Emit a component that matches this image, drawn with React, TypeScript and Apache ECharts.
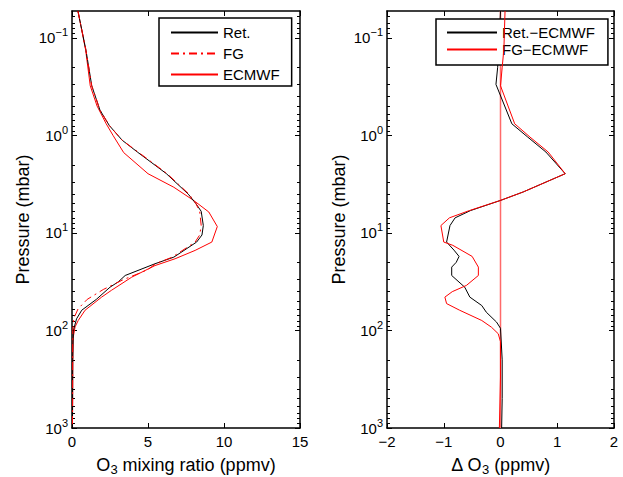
import React, { useEffect, useRef } from 'react';
import * as echarts from 'echarts';

// ---------------- data (pressure in mbar, ozone in ppmv) ----------------
const retP = [0.053, 0.134, 0.31, 0.55, 0.79, 1.12, 1.48, 2.46, 4.0, 5.0, 6.0, 8.4, 10.5, 12.4, 17.7, 20.7, 27.3, 31.7, 36, 48, 62, 76, 100, 200, 500, 1000];
const retO3 = [0.39, 0.92, 1.3, 1.84, 2.45, 3.3, 4.3, 6.2, 7.65, 8.15, 8.5, 8.64, 8.55, 8.2, 6.7, 5.46, 3.5, 3.05, 2.5, 1.6, 0.64, 0.3, 0.09, 0.05, 0.04, 0.03];

const fgP = [0.053, 0.134, 0.31, 0.55, 0.79, 1.12, 1.48, 2.46, 4.0, 5.0, 6.0, 8.4, 10.5, 12.4, 17.7, 20.7, 23.7, 26, 30, 38, 48, 60, 75, 100, 200, 500, 1000];
const fgO3 = [0.39, 0.92, 1.3, 1.84, 2.45, 3.3, 4.35, 6.25, 7.7, 8.15, 8.4, 8.5, 8.4, 8.1, 6.6, 5.5, 5.0, 4.4, 3.4, 2.06, 1.0, 0.4, 0.12, 0.05, 0.04, 0.04, 0.03];

const ecP = [0.053, 0.134, 0.31, 0.5, 0.76, 1.0, 1.5, 2.47, 3.4, 4.64, 6.1, 8.6, 12.4, 15.1, 18.4, 21.6, 28.4, 38.7, 45.5, 62, 79, 92, 120, 200, 500, 1000];
const ecO3 = [0.39, 0.9, 1.2, 1.65, 2.25, 2.7, 3.4, 5.0, 6.7, 8.0, 9.0, 9.56, 9.2, 8.1, 6.78, 5.46, 3.93, 2.6, 1.95, 0.86, 0.41, 0.2, 0.07, 0.05, 0.04, 0.03];

const dRetP = [0.053, 0.13, 0.2, 0.3, 0.76, 1.04, 1.48, 2.47, 3.8, 4.64, 5.9, 7.0, 8.4, 12.4, 15, 17.4, 20, 22.4, 27.3, 36, 45.5, 55.5, 65, 82, 95, 200, 500, 1000];
const dRet = [0.0, -0.03, -0.05, -0.08, 0.2, 0.48, 0.8, 1.14, 0.4, 0.0, -0.53, -0.8, -0.89, -0.95, -0.82, -0.73, -0.78, -0.86, -0.86, -0.63, -0.54, -0.33, -0.25, -0.07, 0.0, 0.03, 0.03, 0.02];

const dFgP = [0.053, 0.13, 0.2, 0.31, 0.76, 1.04, 1.48, 2.47, 3.8, 4.64, 5.9, 7.0, 8.4, 12.4, 13.4, 17.4, 22.4, 27.3, 34.5, 40, 45.5, 53, 62, 79, 92.5, 108, 130, 300, 1000];
const dFg = [0.08, 0.06, 0.03, 0.0, 0.25, 0.52, 0.84, 1.14, 0.4, 0.0, -0.55, -0.9, -1.05, -1.0, -0.84, -0.5, -0.39, -0.39, -0.6, -0.85, -0.98, -0.95, -0.72, -0.33, -0.16, -0.04, 0.0, 0.0, -0.02];

const zeroLineP = [0.053, 1000];
const zeroLineX = [0, 0];

const leftXTicks = { min: 0, max: 15, interval: 5 };
const rightXTicks = { min: -2, max: 2, interval: 1 };
const P_MIN = 0.053;
const P_MAX = 1000;
const majorP = [0.1, 1, 10, 100, 1000];
const minorFactors = [2, 3, 4, 5, 6, 7, 8, 9];
const decades = [0.01, 0.1, 1, 10, 100];

const leftLegend = ['Ret.', 'FG', 'ECMWF'];
const rightLegend = ['Ret.\u2212ECMWF', 'FG\u2212ECMWF'];

// -----------------------------------------------------------------------
const FONT = "'Liberation Sans', Arial, Helvetica, sans-serif";
const minorP: number[] = [];
decades.forEach((d) => minorFactors.forEach((k) => {
  const v = +(k * d).toPrecision(6);
  if (v >= P_MIN && v <= P_MAX) minorP.push(v);
}));

const zip = (xs: number[], ps: number[]) => xs.map((x, i) => [x, ps[i]]);

const supFormatter = (v: number) => {
  const e = Math.round(Math.log10(v));
  if (Math.abs(v - Math.pow(10, e)) / v > 1e-6) return '';
  return '10{sup|' + (e < 0 ? '\u2212' + -e : String(e)) + '}';
};

function yAxes(gridIndex: number, withName: boolean, nameGap: number) {
  const base = {
    type: 'log',
    gridIndex,
    inverse: true,
    min: P_MIN,
    max: P_MAX,
    logBase: 10,
    splitLine: { show: false },
    minorTick: { show: false },
  };
  const line = { show: true, onZero: false, lineStyle: { color: '#000', width: 1.5 } };
  const make = (position: string, kind: 'major' | 'minor', labels: boolean) => ({
    ...base,
    position,
    name: labels && withName ? 'Pressure (mbar)' : '',
    nameLocation: 'middle',
    nameGap,
    nameTextStyle: { fontFamily: FONT, fontSize: 18, color: '#000' },
    axisLine: kind === 'major' ? line : { show: false, onZero: false },
    axisTick: {
      show: true,
      inside: true,
      length: kind === 'major' ? 5 : 3,
      customValues: kind === 'major' ? majorP : minorP,
      lineStyle: { color: '#000', width: 1 },
    },
    axisLabel: {
      show: labels,
      customValues: majorP,
      formatter: supFormatter,
      margin: 4,
      fontFamily: FONT,
      fontSize: 15,
      color: '#000',
      lineHeight: 22,
      rich: { sup: { fontFamily: FONT, fontSize: 11, lineHeight: 11, verticalAlign: 'top', color: '#000' } },
    },
  });
  return [
    make('left', 'major', true),
    make('left', 'minor', false),
    make('right', 'major', false),
    make('right', 'minor', false),
  ];
}

function xAxes(gridIndex: number, ticks: { min: number; max: number; interval: number }, name: string) {
  const common = {
    type: 'value',
    gridIndex,
    min: ticks.min,
    max: ticks.max,
    interval: ticks.interval,
    splitLine: { show: false },
    axisLine: { show: true, onZero: false, lineStyle: { color: '#000', width: 1.5 } },
    axisTick: { show: true, inside: true, length: 5, lineStyle: { color: '#000', width: 1 } },
  };
  return [
    {
      ...common,
      position: 'bottom',
      name,
      nameLocation: 'middle',
      nameGap: 25,
      nameTextStyle: {
        fontFamily: FONT,
        fontSize: 18,
        color: '#000',
        lineHeight: 22,
        rich: { sub: { fontFamily: FONT, fontSize: 13, lineHeight: 13, verticalAlign: 'bottom', color: '#000' } },
      },
      axisLabel: {
        show: true,
        margin: 6,
        fontFamily: FONT,
        fontSize: 15,
        color: '#000',
        formatter: (v: number) => (v < 0 ? '\u2212' + Math.abs(v) : String(v)),
      },
    },
    { ...common, position: 'top', axisLabel: { show: false } },
  ];
}

export default function App() {
  const ref = useRef<HTMLDivElement>(null);
  useEffect(() => {
    if (!ref.current) return;
    const chart = echarts.init(ref.current, null, { renderer: 'svg' });
    const lineBase = { type: 'line', symbol: 'none', showSymbol: false, smooth: false, silent: true };
    const legendCommon = {
      orient: 'vertical',
      itemHeight: 14,
      borderColor: '#000',
      borderWidth: 1.5,
      backgroundColor: '#fff',
      itemStyle: { opacity: 0, borderWidth: 0 },
      textStyle: { fontFamily: FONT, fontSize: 15, color: '#000', lineHeight: 14 },
    };
    chart.setOption({
      animation: false,
      backgroundColor: '#fff',
      textStyle: { fontFamily: FONT },
      grid: [
        { left: 72, right: 323, top: 11, bottom: 49, outerBoundsMode: 'none', containLabel: false },
        { left: 387, right: 9, top: 11, bottom: 49, outerBoundsMode: 'none', containLabel: false },
      ],
      xAxis: [
        ...xAxes(0, leftXTicks, 'O{sub|3} mixing ratio (ppmv)'),
        ...xAxes(1, rightXTicks, '\u0394 O{sub|3} (ppmv)'),
      ],
      yAxis: [...yAxes(0, true, 40), ...yAxes(1, true, 39)],
      legend: [
        {
          ...legendCommon,
          data: leftLegend,
          left: 159,
          top: 18,
          padding: [7, 12, 4, 11],
          itemWidth: 47,
          itemGap: 6,
        },
        {
          ...legendCommon,
          data: rightLegend,
          left: 436,
          top: 19,
          padding: [6, 13, 8, 10],
          itemWidth: 50,
          itemGap: 2,
        },
      ],
      series: [
        { ...lineBase, name: 'Ret.', xAxisIndex: 0, yAxisIndex: 0, data: zip(retO3, retP), lineStyle: { color: '#000', width: 1 }, itemStyle: { color: '#000' }, z: 3 },
        { ...lineBase, name: 'FG', xAxisIndex: 0, yAxisIndex: 0, data: zip(fgO3, fgP), lineStyle: { color: '#ff0000', width: 1, type: [8, 4, 2, 4] }, itemStyle: { color: '#ff0000' }, z: 4 },
        { ...lineBase, name: 'ECMWF', xAxisIndex: 0, yAxisIndex: 0, data: zip(ecO3, ecP), lineStyle: { color: '#ff0000', width: 1 }, itemStyle: { color: '#ff0000' }, z: 2 },
        { ...lineBase, name: 'zero', xAxisIndex: 2, yAxisIndex: 4, data: zip(zeroLineX, zeroLineP), lineStyle: { color: '#ff6a6a', width: 1.5 }, itemStyle: { color: '#ff6a6a' }, z: 1 },
        { ...lineBase, name: rightLegend[0], xAxisIndex: 2, yAxisIndex: 4, data: zip(dRet, dRetP), lineStyle: { color: '#000', width: 1 }, itemStyle: { color: '#000' }, z: 3 },
        { ...lineBase, name: rightLegend[1], xAxisIndex: 2, yAxisIndex: 4, data: zip(dFg, dFgP), lineStyle: { color: '#ff0000', width: 1 }, itemStyle: { color: '#ff0000' }, z: 4 },
      ],
    });
    return () => chart.dispose();
  }, []);
  return <div ref={ref} style={{ position: 'fixed', left: 0, top: 0, width: 623, height: 477 }} />;
}
